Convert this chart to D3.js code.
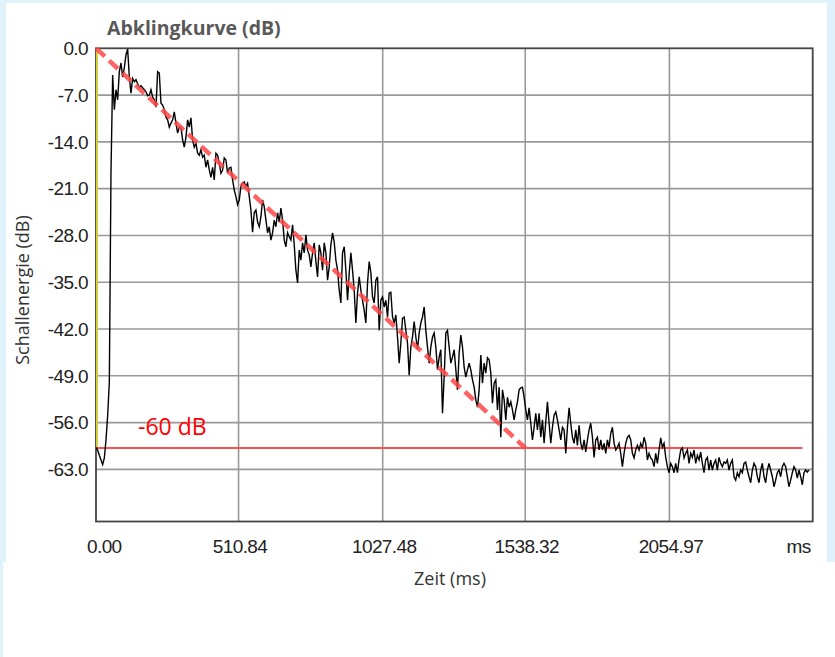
<!DOCTYPE html>
<html>
<head>
<meta charset="utf-8">
<script src="https://cdn.jsdelivr.net/npm/d3@7"></script>
<style>
  body { margin: 0; background: #dff2fb; }
  svg { display: block; }
</style>
</head>
<body>
<div id="chart"></div>
<script>
// decay curve, one value every sampleStep ms (dB)
var sampleStep = 5.97;
var decayDb = [
  -59.7, -60.1, -60.9, -61.6, -62.3, -61.3, -58.6, -54.9, -50.0, -18.6,
  -4.0, -9.2, -6.2, -7.7, -3.5, -2.2, -4.3, -2.9, -1.0, -0.1,
  -4.3, -6.7, -4.5, -5.0, -4.7, -5.3, -5.8, -5.6, -5.9, -6.2,
  -6.5, -7.1, -7.0, -6.2, -7.3, -7.7, -8.8, -3.5, -3.7, -8.2,
  -8.5, -9.2, -10.3, -10.7, -11.8, -11.2, -10.7, -9.5, -11.2, -12.7,
  -11.8, -11.9, -13.7, -14.8, -13.3, -10.7, -11.8, -10.4, -13.7, -14.8,
  -14.2, -15.7, -16.0, -15.2, -16.3, -16.0, -17.8, -16.7, -18.2, -19.3,
  -17.8, -19.7, -15.7, -16.0, -17.2, -18.7, -18.2, -16.4, -16.7, -18.7,
  -17.9, -17.8, -19.7, -21.2, -22.2, -23.4, -22.7, -20.7, -20.2, -20.0,
  -20.7, -20.2, -22.2, -24.2, -27.5, -24.6, -24.2, -26.0, -26.7, -25.2,
  -22.7, -23.7, -25.7, -27.6, -26.7, -28.7, -27.6, -25.7, -26.7, -24.6,
  -26.0, -23.9, -25.7, -28.7, -29.7, -27.6, -28.2, -28.7, -26.4, -29.4,
  -33.2, -35.1, -30.2, -31.7, -29.1, -30.6, -27.9, -30.2, -30.9, -32.7,
  -30.6, -29.1, -31.9, -34.2, -29.4, -30.6, -33.2, -29.1, -30.6, -34.7,
  -32.7, -29.4, -27.6, -29.0, -31.7, -33.2, -36.2, -38.1, -30.6, -29.7,
  -33.2, -37.7, -33.6, -30.6, -33.2, -36.2, -41.1, -36.6, -34.2, -36.2,
  -37.7, -39.2, -41.1, -35.1, -31.9, -33.6, -37.2, -38.1, -34.7, -34.2,
  -42.2, -37.7, -37.2, -38.7, -37.7, -40.2, -36.6, -36.5, -40.2, -41.1,
  -39.9, -43.2, -47.1, -44.1, -40.4, -40.2, -42.2, -44.1, -48.9, -44.7,
  -43.2, -40.9, -43.2, -45.1, -42.6, -41.1, -40.2, -38.7, -42.2, -44.7,
  -47.1, -44.7, -43.2, -42.6, -44.7, -48.1, -46.2, -45.1, -54.6, -49.2,
  -42.6, -42.2, -44.7, -47.1, -46.2, -45.1, -48.1, -51.1, -45.6, -42.9,
  -44.7, -47.7, -49.2, -48.1, -47.1, -48.1, -49.6, -50.7, -52.6, -53.7,
  -51.1, -45.9, -50.1, -47.1, -48.6, -46.3, -46.6, -48.6, -53.1, -50.1,
  -49.6, -54.1, -50.7, -58.2, -51.1, -52.6, -55.6, -52.2, -53.7, -52.9,
  -54.1, -55.6, -54.1, -52.9, -51.1, -50.8, -50.7, -52.2, -54.1, -55.6,
  -53.8, -56.1, -58.6, -56.7, -54.6, -57.1, -54.6, -58.2, -55.6, -59.1,
  -55.9, -52.9, -56.1, -59.1, -56.7, -54.9, -54.4, -55.6, -57.1, -58.6,
  -56.7, -57.1, -60.6, -56.7, -53.8, -56.1, -58.2, -59.1, -57.1, -59.4,
  -56.4, -59.1, -60.1, -58.6, -60.4, -58.6, -57.1, -56.1, -58.2, -61.2,
  -58.6, -58.2, -60.1, -58.6, -60.1, -59.1, -60.6, -58.6, -59.7, -57.6,
  -56.7, -59.1, -60.1, -59.7, -59.1, -60.6, -62.6, -60.6, -59.1, -58.2,
  -57.9, -58.6, -60.6, -61.3, -60.1, -59.4, -60.1, -59.1, -59.8, -58.2,
  -59.1, -61.6, -60.6, -61.3, -61.6, -62.6, -60.6, -62.1, -60.1, -58.3,
  -59.7, -59.1, -61.2, -62.6, -63.5, -62.1, -62.6, -63.5, -62.1, -63.5,
  -61.6, -60.1, -59.8, -61.3, -60.6, -60.1, -62.1, -60.6, -61.2, -60.1,
  -62.1, -60.9, -61.6, -60.4, -62.1, -63.5, -61.6, -61.2, -63.1, -61.6,
  -63.1, -62.1, -61.6, -63.1, -61.2, -62.1, -62.6, -61.9, -62.1, -61.6,
  -63.1, -62.1, -61.6, -64.1, -64.6, -63.5, -64.1, -63.1, -63.5, -62.1,
  -61.9, -63.1, -64.1, -65.0, -63.1, -62.1, -62.6, -64.1, -65.0, -63.1,
  -62.1, -64.1, -65.0, -63.1, -62.1, -63.1, -64.1, -65.6, -64.6, -63.5,
  -63.1, -64.1, -62.6, -62.1, -62.6, -64.1, -65.6, -64.6, -63.5, -62.6,
  -63.1, -64.3, -63.1, -64.1, -65.3, -63.5, -63.1, -63.4, -63.1
];

var yTicks = [0, -7, -14, -21, -28, -35, -42, -49, -56, -63];
var xTicks = [0, 510.84, 1027.48, 1538.32, 2054.97, 2568.5];
var xTickLabels = ["0.00", "510.84", "1027.48", "1538.32", "2054.97", "ms"];

// reference lines
var refLevel = -59.8;      // horizontal "-60 dB" line
var refEnd = 2532;         // where the horizontal line stops (ms)
var slopeStart = [0, 0];   // dashed regression line, [ms, dB]
var slopeEnd = [1538.32, -59.8];

var W = 835, H = 657;
var plot = {left: 96, right: 812.7, top: 48.3, bottom: 521.5};

var svg = d3.select("#chart").append("svg")
    .attr("width", W)
    .attr("height", H);

// backgrounds
svg.append("rect").attr("x", 6).attr("y", 3).attr("width", 821).attr("height", 559).attr("fill", "#fff");
svg.append("rect").attr("x", 3).attr("y", 562).attr("width", 832).attr("height", 95).attr("fill", "#fff");

var x = d3.scaleLinear().domain([0, 2568.5]).range([plot.left, plot.right]);
var y = d3.scaleLinear().domain([-70.8, 0]).range([plot.bottom, plot.top]);

// grid
svg.append("g")
  .selectAll("line.vg")
  .data(xTicks.slice(1, -1))
  .enter().append("line")
    .attr("x1", function(d) { return x(d); })
    .attr("x2", function(d) { return x(d); })
    .attr("y1", plot.top).attr("y2", plot.bottom)
    .attr("stroke", "#999").attr("stroke-width", 1.6);

svg.append("g")
  .selectAll("line.hg")
  .data(yTicks.slice(1))
  .enter().append("line")
    .attr("x1", plot.left).attr("x2", plot.right)
    .attr("y1", function(d) { return y(d); })
    .attr("y2", function(d) { return y(d); })
    .attr("stroke", "#999").attr("stroke-width", 1.6);

// frame
svg.append("rect")
  .attr("x", plot.left).attr("y", plot.top)
  .attr("width", plot.right - plot.left).attr("height", plot.bottom - plot.top)
  .attr("fill", "none").attr("stroke", "#444").attr("stroke-width", 1.8);

// yellow marker on the left edge
svg.append("line")
  .attr("x1", x(0) + 1).attr("x2", x(0) + 1)
  .attr("y1", y(0) + 2).attr("y2", y(refLevel))
  .attr("stroke", "#d2d238").attr("stroke-width", 2);

// -60 dB line
svg.append("line")
  .attr("x1", x(0)).attr("x2", x(refEnd))
  .attr("y1", y(refLevel)).attr("y2", y(refLevel))
  .attr("stroke", "#ff5050").attr("stroke-width", 2);

// decay curve
var line = d3.line()
  .x(function(d, i) { return x(i * sampleStep); })
  .y(function(d) { return y(d); });

svg.append("path")
  .datum(decayDb)
  .attr("d", line)
  .attr("fill", "none")
  .attr("stroke", "#000")
  .attr("stroke-width", 1.4);

// dashed slope
svg.append("line")
  .attr("x1", x(slopeStart[0])).attr("y1", y(slopeStart[1]))
  .attr("x2", x(slopeEnd[0])).attr("y2", y(slopeEnd[1]))
  .attr("stroke", "#ff4646").attr("stroke-opacity", 0.85)
  .attr("stroke-width", 4.5)
  .attr("stroke-dasharray", "12,6");

// y tick labels
svg.append("g")
  .selectAll("text")
  .data(yTicks)
  .enter().append("text")
    .attr("x", 88)
    .attr("y", function(d) { return y(d); })
    .attr("dy", "0.36em")
    .attr("text-anchor", "end")
    .style("font-family", "'Liberation Sans', Arial, sans-serif")
    .style("font-size", "19px")
    .style("letter-spacing", "-0.6px")
    .style("fill", "#222")
    .text(function(d) { return d.toFixed(1); });

// x tick labels
svg.append("g")
  .selectAll("text")
  .data(xTicks)
  .enter().append("text")
    .attr("x", function(d, i) {
      if (i === 0) return x(d) - 9;
      if (i === xTicks.length - 1) return x(d) - 2;
      return x(d) + 1.5;
    })
    .attr("y", 553)
    .attr("text-anchor", function(d, i) {
      if (i === 0) return "start";
      if (i === xTicks.length - 1) return "end";
      return "middle";
    })
    .style("font-family", "'Liberation Sans', Arial, sans-serif")
    .style("font-size", "19px")
    .style("letter-spacing", "-0.6px")
    .style("fill", "#222")
    .text(function(d, i) { return xTickLabels[i]; });

// titles
svg.append("text")
  .attr("x", 107).attr("y", 35)
  .style("font-family", "'Open Sans', sans-serif")
  .style("font-weight", "bold")
  .style("font-size", "19.5px")
  .style("fill", "#595959")
  .text("Abklingkurve (dB)");

svg.append("text")
  .attr("x", 450).attr("y", 585)
  .attr("text-anchor", "middle")
  .style("font-family", "'Open Sans', sans-serif")
  .style("font-size", "18px")
  .style("fill", "#333")
  .text("Zeit (ms)");

svg.append("text")
  .attr("transform", "translate(29,290) rotate(-90)")
  .attr("text-anchor", "middle")
  .style("font-family", "'Open Sans', sans-serif")
  .style("font-size", "18px")
  .style("fill", "#333")
  .text("Schallenergie (dB)");

svg.append("text")
  .attr("x", 138).attr("y", 435)
  .style("font-family", "'Open Sans', sans-serif")
  .style("font-size", "23px")
  .style("fill", "#ff0000")
  .text("-60 dB");
</script>
</body>
</html>
